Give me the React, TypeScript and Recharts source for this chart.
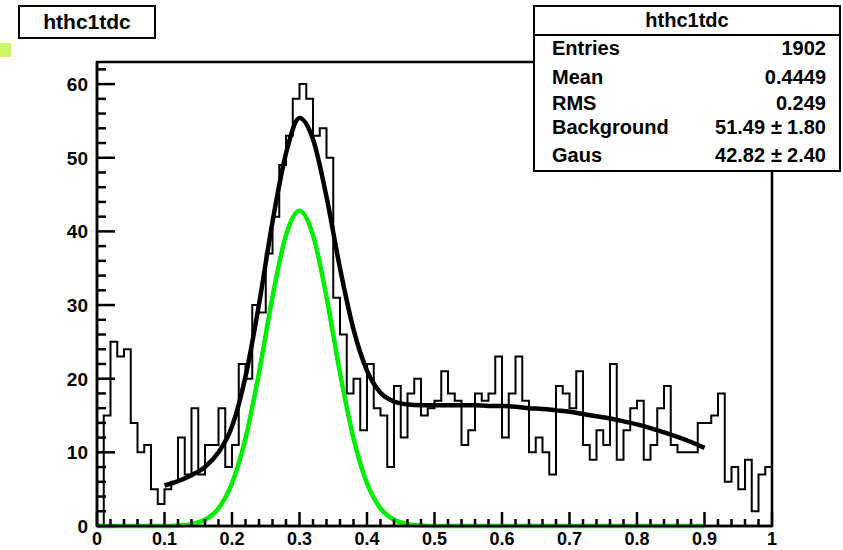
// ROOT-style histogram "hthc1tdc" with gaussian + background fit
import { ComposedChart, Line, XAxis, YAxis, ReferenceArea } from "recharts";

// bin contents, 100 bins of width 0.01 from 0 to 1
const binCounts = [
  0, 15, 25, 23, 24, 14, 10, 11, 5, 3,
  5, 6, 12, 7, 16, 7, 11, 11, 16, 8,
  11, 22, 20, 30, 29, 37, 42, 49, 53, 58,
  60, 58, 53, 54, 50, 31, 26, 18, 20, 13,
  22, 16, 15, 8, 19, 12, 18, 20, 15, 16,
  17, 21, 18, 17, 11, 13, 18, 17, 18, 23,
  12, 18, 23, 17, 10, 12, 10, 7, 19, 18,
  16, 21, 11, 9, 13, 11, 22, 9, 13, 16,
  17, 9, 11, 16, 19, 11, 10, 10, 10, 14,
  14, 15, 18, 6, 8, 5, 9, 2, 7, 8,
];

// total fit (background + gaus)
const fitX = [
  0.1, 0.12, 0.14, 0.16, 0.18, 0.2, 0.22, 0.24, 0.26, 0.28, 0.3, 0.32, 0.34,
  0.36, 0.38, 0.4, 0.42, 0.44, 0.46, 0.48, 0.5, 0.52, 0.54, 0.56, 0.58, 0.6,
  0.62, 0.64, 0.66, 0.68, 0.7, 0.72, 0.74, 0.76, 0.78, 0.8, 0.82, 0.84, 0.86,
  0.88, 0.9,
];
const fitTotal = [
  5.5, 6.1, 6.9, 8.0, 10.0, 13.5, 20.3, 30.1, 41.3, 50.6, 55.4, 52.5, 44.7,
  35.0, 26.7, 21.1, 18.1, 16.9, 16.5, 16.4, 16.4, 16.4, 16.4, 16.4, 16.3, 16.3,
  16.2, 16.0, 15.9, 15.7, 15.5, 15.2, 14.9, 14.6, 14.2, 13.8, 13.3, 12.7, 12.1,
  11.4, 10.6,
];

// gaussian component alone
const gausX = [
  0, 0.02, 0.04, 0.06, 0.08, 0.1, 0.12, 0.14, 0.16, 0.18, 0.2, 0.22, 0.24,
  0.26, 0.28, 0.3, 0.32, 0.34, 0.36, 0.38, 0.4, 0.42, 0.44, 0.46, 0.48, 0.5,
  0.55, 0.6, 0.65, 0.7, 0.75, 0.8, 0.85, 0.9,
];
const gausY = [
  0, 0, 0, 0, 0, 0, 0.07, 0.26, 0.85, 2.4, 5.8, 11.9, 20.8,
  31.1, 39.5, 42.8, 39.5, 31.1, 20.8, 11.9, 5.8, 2.4, 0.85, 0.26, 0.07, 0,
  0, 0, 0, 0, 0, 0, 0, 0,
];

const statsRows = [
  { label: "Entries", value: "1902", top: 48 },
  { label: "Mean", value: "0.4449", top: 77 },
  { label: "RMS", value: "0.249", top: 103 },
  { label: "Background", value: "51.49", err: "1.80", top: 127 },
  { label: "Gaus", value: "42.82", err: "2.40", top: 155 },
];

const xTicks = Array.from({ length: 51 }, (_, i) => i / 50);
const yTicks = Array.from({ length: 32 }, (_, i) => i * 2);

const histData = [
  { x: 0, y: 0 },
  ...binCounts.map((c, i) => ({ x: i / 100, y: c })),
  { x: 1, y: binCounts[binCounts.length - 1] },
  { x: 1, y: 0 },
];
const fitData = fitX.map((x, i) => ({ x, y: fitTotal[i] }));
const gausData = gausX.map((x, i) => ({ x, y: gausY[i] }));

const FONT = "'Liberation Sans', Arial, Helvetica, sans-serif";

const YTick = (props: any) => {
  const { x, y, payload } = props;
  const major = payload.value % 10 === 0;
  return (
    <g>
      <line x1={x} x2={x + (major ? 18 : 9)} y1={y} y2={y} stroke="#000" strokeWidth={2.5} />
      {major && (
        <text x={x - 9} y={y + 7} textAnchor="end" fontFamily={FONT} fontWeight="bold" fontSize={19} fill="#000">
          {payload.value}
        </text>
      )}
    </g>
  );
};

const XTick = (props: any) => {
  const { x, y, payload } = props;
  const v = payload.value;
  const major = Math.abs(v * 10 - Math.round(v * 10)) < 1e-6;
  return (
    <g>
      <line x1={x} x2={x} y1={y} y2={y - (major ? 14 : 7)} stroke="#000" strokeWidth={2.5} />
      {major && (
        <text x={x} y={y + 19} textAnchor="middle" fontFamily={FONT} fontWeight="bold" fontSize={18} fill="#000">
          {String(Math.round(v * 10) / 10)}
        </text>
      )}
    </g>
  );
};

export default function App() {
  return (
    <div style={{ position: "absolute", left: 0, top: 0, width: 843, height: 550, background: "#fff", fontFamily: FONT }}>
      <ComposedChart width={843} height={550} margin={{ top: 62, right: 71, bottom: 0, left: 0 }}>
        <XAxis
          type="number"
          dataKey="x"
          domain={[0, 1]}
          ticks={xTicks}
          interval={0}
          tick={<XTick />}
          tickSize={0}
          tickMargin={0}
          tickLine={false}
          axisLine={{ stroke: "#000", strokeWidth: 2.5 }}
          height={24}
        />
        <YAxis
          type="number"
          domain={[0, 63]}
          ticks={yTicks}
          interval={0}
          tick={<YTick />}
          tickSize={0}
          tickMargin={0}
          tickLine={false}
          axisLine={{ stroke: "#000", strokeWidth: 2.5 }}
          width={97}
        />
        <ReferenceArea x1={0} x2={1} y1={0} y2={63} stroke="#000" strokeWidth={2.5} fill="none" />
        <Line data={histData} dataKey="y" type="stepAfter" stroke="#000" strokeWidth={2} dot={false} isAnimationActive={false} />
        <Line data={gausData} dataKey="y" type="monotone" stroke="#00ee00" strokeWidth={4.5} dot={false} isAnimationActive={false} />
        <Line data={fitData} dataKey="y" type="monotone" stroke="#000" strokeWidth={4.5} dot={false} isAnimationActive={false} />
      </ComposedChart>

      <div style={{ position: "absolute", left: 0, top: 43, width: 11, height: 14, background: "#ccf56a" }} />

      <div
        style={{
          position: "absolute", left: 18, top: 5, width: 134, height: 30, border: "2px solid #000",
          fontWeight: "bold", fontSize: 21, lineHeight: "30px", textAlign: "center", background: "#fff",
        }}
      >
        hthc1tdc
      </div>

      <div
        style={{
          position: "absolute", left: 533, top: 5, width: 304, height: 163, border: "2px solid #000",
          background: "#fff", fontWeight: "bold", fontSize: 20,
        }}
      >
        <div style={{ height: 27, lineHeight: "27px", textAlign: "center", borderBottom: "2px solid #000" }}>hthc1tdc</div>
        {statsRows.map((r) => (
          <div key={r.label} style={{ position: "absolute", left: 17, right: 13, top: r.top - 7 - 11, height: 22, lineHeight: "22px" }}>
            <span style={{ position: "absolute", left: 0 }}>{r.label}</span>
            <span style={{ position: "absolute", right: 0, whiteSpace: "nowrap" }}>
              {r.value}
              {r.err && (
                <>
                  <span style={{ margin: "0 5px 0 6px" }}>{"\u00b1"}</span>
                  {r.err}
                </>
              )}
            </span>
          </div>
        ))}
      </div>
    </div>
  );
}
